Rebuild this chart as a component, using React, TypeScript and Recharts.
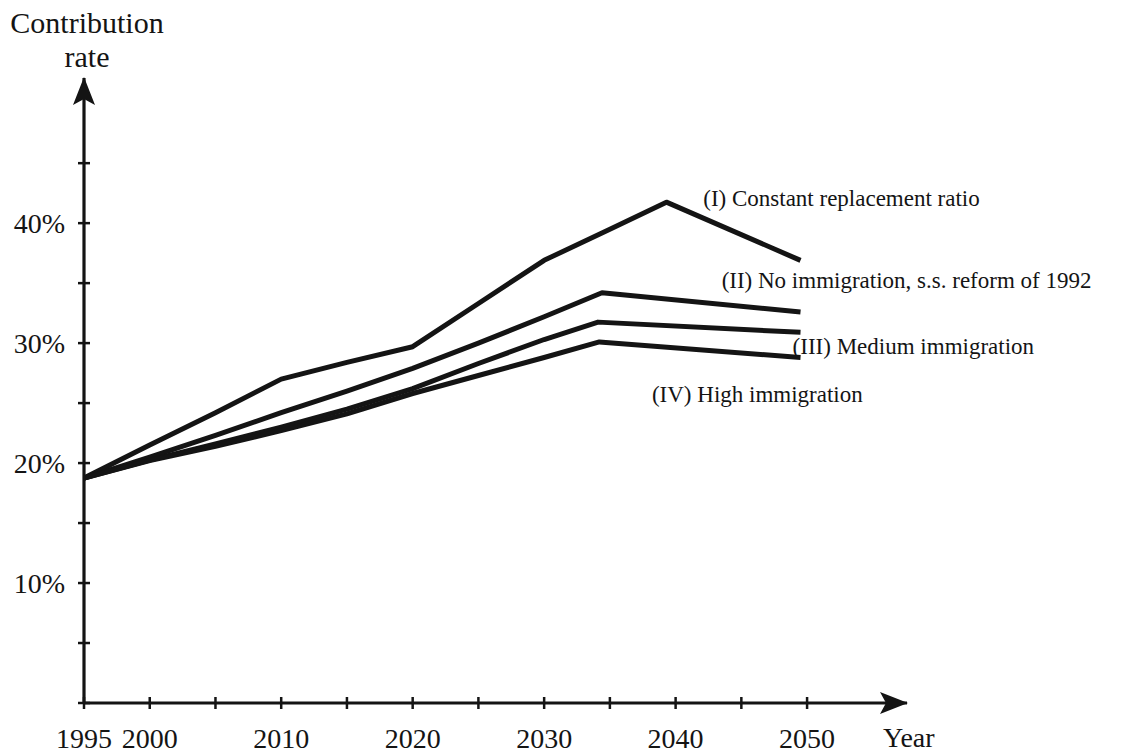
import { LineChart, Line, XAxis, YAxis, ReferenceDot } from 'recharts';

const FONT = '"Liberation Serif", "Times New Roman", serif';
const INK = '#141414';

// axis ticks
const xTicks = [1995, 2000, 2005, 2010, 2015, 2020, 2025, 2030, 2035, 2040, 2045, 2050];
const xTickLabels = [1995, 2000, 2010, 2020, 2030, 2040, 2050];
const yTicks = [0, 5, 10, 15, 20, 25, 30, 35, 40, 45];
const yTickLabels = [10, 20, 30, 40];

// (I) constant replacement ratio
const yearsI = [1995, 2000, 2005, 2010, 2015, 2020, 2025, 2030, 2035, 2039.3, 2049.5];
const rateI = [18.75, 21.5, 24.2, 27.0, 28.4, 29.7, 33.3, 36.9, 39.5, 41.75, 36.9];

// (II) no immigration, s.s. reform of 1992
const yearsII = [1995, 2000, 2005, 2010, 2015, 2020, 2025, 2030, 2034.4, 2049.5];
const rateII = [18.75, 20.5, 22.3, 24.2, 26.0, 27.9, 30.0, 32.2, 34.2, 32.6];

// (III) medium immigration
const yearsIII = [1995, 2000, 2005, 2010, 2015, 2020, 2025, 2030, 2034.1, 2049.5];
const rateIII = [18.75, 20.25, 21.6, 23.0, 24.5, 26.2, 28.3, 30.3, 31.75, 30.9];

// (IV) high immigration
const yearsIV = [1995, 2000, 2005, 2010, 2015, 2020, 2025, 2030, 2034.2, 2049.5];
const rateIV = [18.75, 20.2, 21.4, 22.7, 24.1, 25.8, 27.3, 28.8, 30.1, 28.8];

const seriesNames = [
  '(I) Constant replacement ratio',
  '(II) No immigration, s.s. reform of 1992',
  '(III) Medium immigration',
  '(IV) High immigration',
];
// where each name starts (year, rate)
const nameYears = [2042.1, 2043.5, 2048.9, 2038.2];
const nameRates = [42.1, 35.25, 29.8, 25.8];

const toPoints = (years: number[], rates: number[]) =>
  years.map((year, i) => ({ year, rate: rates[i] }));

const series = [
  toPoints(yearsI, rateI),
  toPoints(yearsII, rateII),
  toPoints(yearsIII, rateIII),
  toPoints(yearsIV, rateIV),
];

function XTick({ x, y, payload }: any) {
  const show = xTickLabels.includes(payload.value);
  return (
    <g>
      <line x1={x} x2={x} y1={y - 6} y2={y + 6} stroke={INK} strokeWidth={2.5} />
      {show && (
        <text x={x} y={y + 45} textAnchor="middle" fontSize={28} fontFamily={FONT} fill={INK}>
          {payload.value}
        </text>
      )}
    </g>
  );
}

function YTick({ x, y, payload }: any) {
  const show = yTickLabels.includes(payload.value);
  return (
    <g>
      <line x1={x - 6} x2={x + 6} y1={y} y2={y} stroke={INK} strokeWidth={2.5} />
      {show && (
        <text x={x - 19} y={y} dy="0.35em" textAnchor="end" fontSize={28} fontFamily={FONT} fill={INK}>
          {payload.value}%
        </text>
      )}
    </g>
  );
}

export default function App() {
  return (
    <div style={{ position: 'absolute', left: 0, top: 0, background: '#fff' }}>
      <LineChart width={1144} height={754} margin={{ top: 78, right: 237, bottom: 0, left: 0 }}>
        <defs>
          <marker
            id="arrow"
            viewBox="0 0 28 22"
            markerWidth={28}
            markerHeight={22}
            refX={27}
            refY={11}
            markerUnits="userSpaceOnUse"
            orient="auto-start-reverse"
          >
            <path d="M0,0 L28,11 L0,22 L6,11 Z" fill={INK} />
          </marker>
        </defs>
        <XAxis
          dataKey="year"
          type="number"
          domain={[1995, 2057.6]}
          ticks={xTicks}
          interval={0}
          height={51}
          tickSize={0}
          tickMargin={0}
          tickLine={false}
          tick={<XTick />}
          axisLine={{ stroke: INK, strokeWidth: 3.2, markerEnd: 'url(#arrow)' }}
        />
        <YAxis
          type="number"
          domain={[0, 52.1]}
          ticks={yTicks}
          interval={0}
          width={84}
          tickSize={0}
          tickMargin={0}
          tickLine={false}
          tick={<YTick />}
          axisLine={{ stroke: INK, strokeWidth: 3.2, markerStart: 'url(#arrow)' }}
        />
        {series.map((data, i) => (
          <Line
            key={seriesNames[i]}
            data={data}
            dataKey="rate"
            type="linear"
            stroke={INK}
            strokeWidth={5}
            strokeLinejoin="round"
            dot={false}
            activeDot={false}
            isAnimationActive={false}
          />
        ))}
        {seriesNames.map((name, i) => (
          <ReferenceDot
            key={name}
            x={nameYears[i]}
            y={nameRates[i]}
            r={0}
            stroke="none"
            fill="none"
            label={{ value: name, position: 'right', offset: 0, fontSize: 23, fontFamily: FONT, fill: INK }}
          />
        ))}
        <text x={87} y={33} textAnchor="middle" fontSize={30} fontFamily={FONT} fill={INK}>
          Contribution
        </text>
        <text x={87} y={67} textAnchor="middle" fontSize={30} fontFamily={FONT} fill={INK}>
          rate
        </text>
        <text x={883} y={747} fontSize={28} fontFamily={FONT} fill={INK}>
          Year
        </text>
      </LineChart>
    </div>
  );
}
